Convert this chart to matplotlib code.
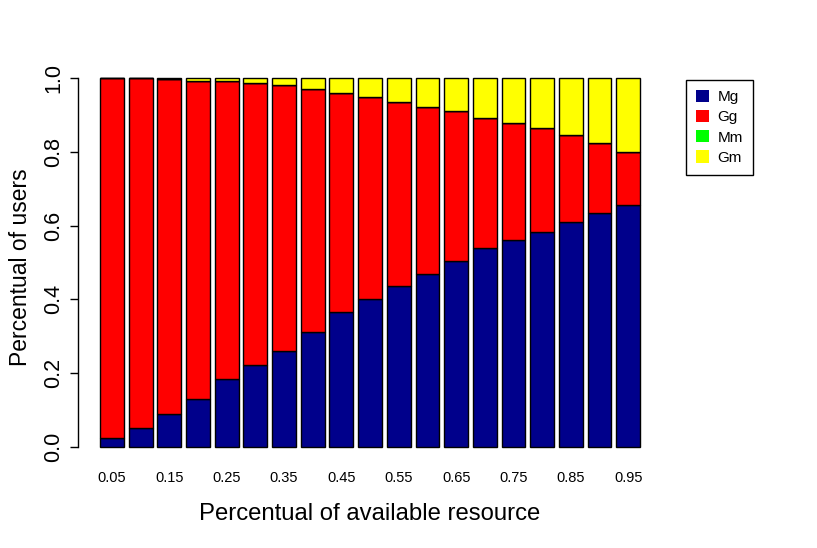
import numpy as np
import matplotlib
matplotlib.use("Agg")
import matplotlib.pyplot as plt
from matplotlib.patches import Patch

plt.rcParams['font.family'] = ['Liberation Sans', 'DejaVu Sans']

# fraction of users per class, for each available-resource level
resource = ["0.05", "0.10", "0.15", "0.20", "0.25", "0.30", "0.35", "0.40", "0.45", "0.50",
            "0.55", "0.60", "0.65", "0.70", "0.75", "0.80", "0.85", "0.90", "0.95"]
Mg = [0.024, 0.051, 0.089, 0.130, 0.184, 0.222, 0.260, 0.312, 0.366, 0.402,
      0.435, 0.470, 0.503, 0.538, 0.562, 0.584, 0.611, 0.633, 0.655]
Gg = [0.976, 0.949, 0.908, 0.864, 0.808, 0.764, 0.721, 0.658, 0.593, 0.546,
      0.502, 0.453, 0.409, 0.355, 0.318, 0.282, 0.236, 0.192, 0.146]
Mm = [0.0] * 19
Gm = [0.000, 0.000, 0.003, 0.006, 0.008, 0.014, 0.019, 0.030, 0.041, 0.052,
      0.063, 0.077, 0.088, 0.107, 0.120, 0.134, 0.153, 0.175, 0.199]

series = [("Mg", Mg, "#00008B"), ("Gg", Gg, "#FF0000"),
          ("Mm", Mm, "#00FF00"), ("Gm", Gm, "#FFFF00")]

fig = plt.figure(figsize=(8.17, 5.48), dpi=100)
ax = fig.add_axes([0.096, 0.158, 0.714, 0.726])

# R barplot layout: width 1, space 0.2
x = 0.7 + 1.2 * np.arange(len(resource))
bottom = np.zeros(len(resource))
for name, vals, col in series:
    vals = np.array(vals)
    ax.bar(x, vals, width=1.0, bottom=bottom, color=col, edgecolor="black",
           linewidth=1.0, label=name)
    bottom += vals

ax.set_xlim(0.2 - 0.904, 22.8 + 0.904)
ax.set_ylim(-0.04, 1.04)

for s in ["top", "right", "bottom"]:
    ax.spines[s].set_visible(False)
ax.spines["left"].set_bounds(0, 1)
ax.spines["left"].set_linewidth(1.0)

ax.set_yticks([0, 0.2, 0.4, 0.6, 0.8, 1.0])
ax.set_yticklabels(["0.0", "0.2", "0.4", "0.6", "0.8", "1.0"], rotation=90,
                   va="center", fontsize=15.5)
ax.tick_params(axis="y", length=6, width=1.0, pad=4)

ax.set_xticks(x[::2])
ax.set_xticklabels(resource[::2], fontsize=10.5)
ax.tick_params(axis="x", length=0, pad=7)

ax.set_xlabel("Percentual of available resource", fontsize=17.2, labelpad=13)
ax.set_ylabel("Percentual of users", fontsize=16.5, labelpad=8, y=0.487)

handles = [Patch(facecolor=col, edgecolor="none") for _, _, col in series]
leg = fig.legend(handles, [s[0] for s in series], loc="upper left",
                 bbox_to_anchor=(686 / 817, 1 - 80 / 548), borderaxespad=0,
                 fontsize=11, fancybox=False, edgecolor="black", framealpha=1,
                 handlelength=0.85, handleheight=0.85, handletextpad=0.55,
                 labelspacing=0.38, borderpad=0.65)
leg.get_frame().set_linewidth(1.0)

fig.savefig("out.png", dpi=100)
